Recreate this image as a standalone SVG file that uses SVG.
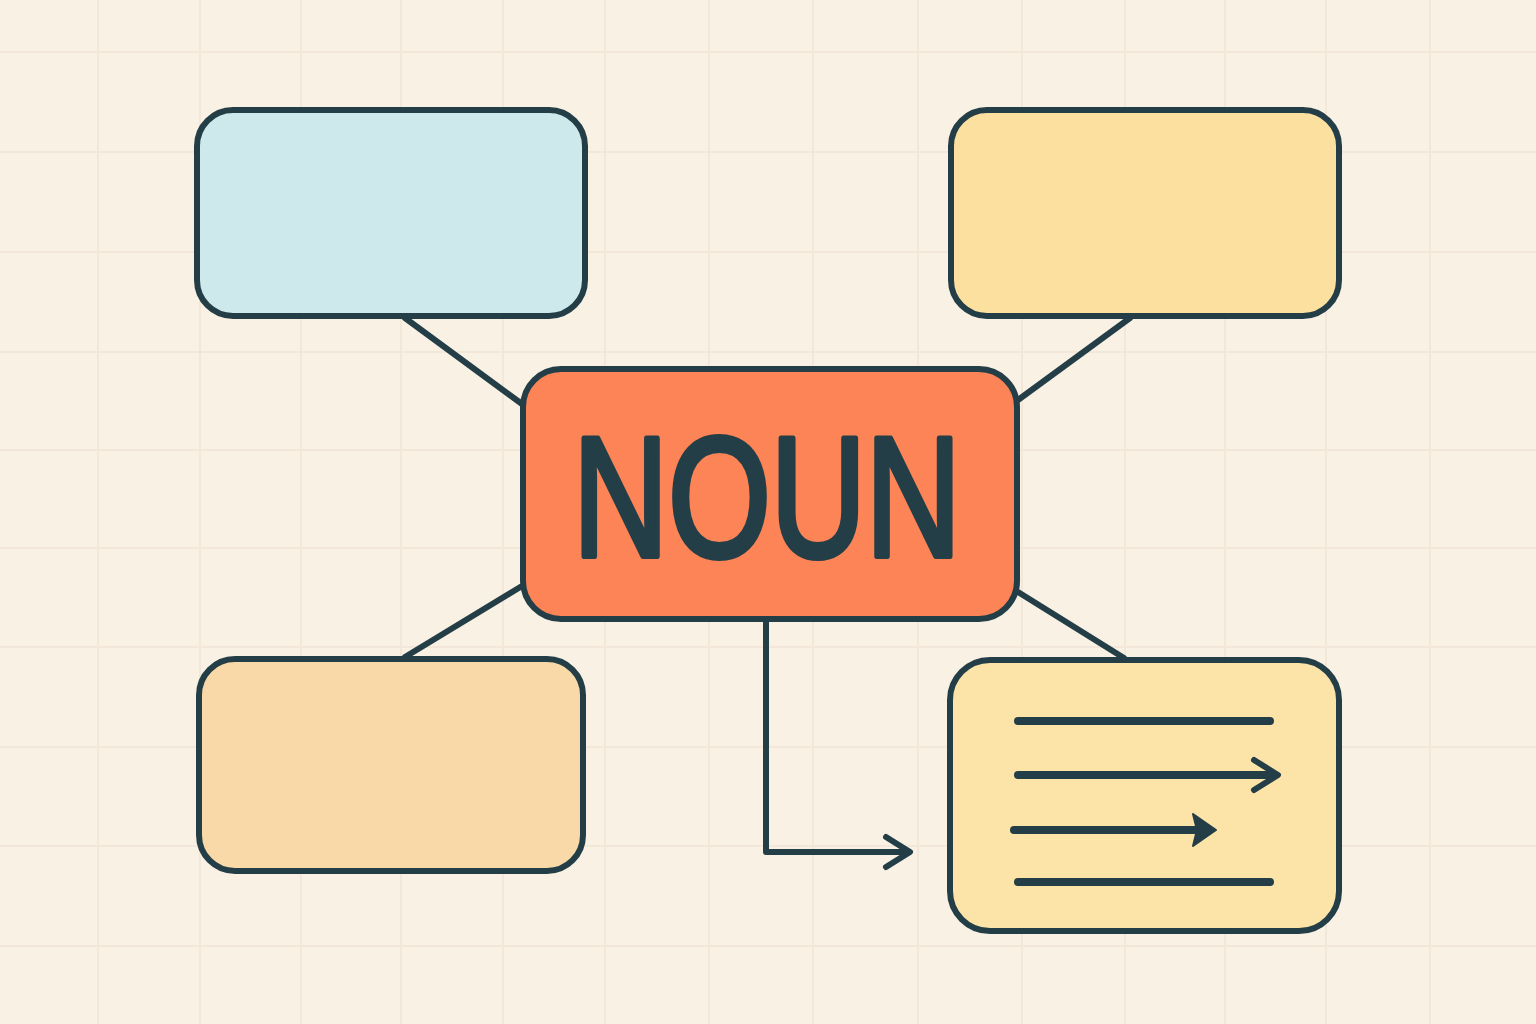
<svg xmlns="http://www.w3.org/2000/svg" width="1536" height="1024" viewBox="0 0 1536 1024">
<defs>
<style>
.bg{fill:#faf1e5}
.grid line{stroke:#f2e7d8;stroke-width:2}
.box{stroke:#243e47;stroke-width:6}
.conn{fill:none;stroke:#243e47;stroke-width:6;stroke-linecap:round;stroke-linejoin:round}
.inner{fill:none;stroke:#243e47;stroke-width:8;stroke-linecap:round;stroke-linejoin:round}
.label{font-family:"Liberation Sans","DejaVu Sans",sans-serif;font-weight:normal;fill:#243e47;stroke:#243e47;stroke-width:6;stroke-linejoin:round}
</style>
<marker id="chev" viewBox="0 0 40 40" refX="29" refY="20" markerWidth="40" markerHeight="40" markerUnits="userSpaceOnUse" orient="auto">
<path d="M9 5 L33 20 L9 35" fill="none" stroke="#243e47" stroke-width="6" stroke-linecap="round" stroke-linejoin="round"/>
</marker>
<marker id="tri" viewBox="0 0 40 40" refX="26" refY="20" markerWidth="40" markerHeight="40" markerUnits="userSpaceOnUse" orient="auto">
<path d="M10 4 L33 20 L10 36 L14 20 Z" fill="#243e47" stroke="#243e47" stroke-width="2" stroke-linejoin="round"/>
</marker>
</defs>
<rect class="bg" x="0" y="0" width="1536" height="1024"/>
<g class="grid">
<line x1="98" y1="0" x2="98" y2="1024"/>
<line x1="200" y1="0" x2="200" y2="1024"/>
<line x1="301" y1="0" x2="301" y2="1024"/>
<line x1="401" y1="0" x2="401" y2="1024"/>
<line x1="503" y1="0" x2="503" y2="1024"/>
<line x1="605" y1="0" x2="605" y2="1024"/>
<line x1="709" y1="0" x2="709" y2="1024"/>
<line x1="813" y1="0" x2="813" y2="1024"/>
<line x1="918" y1="0" x2="918" y2="1024"/>
<line x1="1022" y1="0" x2="1022" y2="1024"/>
<line x1="1125" y1="0" x2="1125" y2="1024"/>
<line x1="1225" y1="0" x2="1225" y2="1024"/>
<line x1="1326" y1="0" x2="1326" y2="1024"/>
<line x1="1430" y1="0" x2="1430" y2="1024"/>
<line x1="0" y1="52" x2="1536" y2="52"/>
<line x1="0" y1="152" x2="1536" y2="152"/>
<line x1="0" y1="252" x2="1536" y2="252"/>
<line x1="0" y1="352" x2="1536" y2="352"/>
<line x1="0" y1="450" x2="1536" y2="450"/>
<line x1="0" y1="548" x2="1536" y2="548"/>
<line x1="0" y1="647" x2="1536" y2="647"/>
<line x1="0" y1="747" x2="1536" y2="747"/>
<line x1="0" y1="846" x2="1536" y2="846"/>
<line x1="0" y1="946" x2="1536" y2="946"/>
</g>
<g id="connectors">
<line class="conn" x1="405" y1="318" x2="522" y2="404"/>
<line class="conn" x1="1130" y1="318" x2="1018" y2="400"/>
<line class="conn" x1="522" y1="586" x2="405" y2="657"/>
<line class="conn" x1="1018" y1="592" x2="1124" y2="658"/>
<path class="conn" d="M766 622 L766 852 L906 852" marker-end="url(#chev)"/>
</g>
<g id="node-top-left">
<rect class="box" x="197" y="110" width="388" height="206" rx="36" fill="#cde9ec"/>
</g>
<g id="node-top-right">
<rect class="box" x="951" y="110" width="388" height="206" rx="36" fill="#fce0a0"/>
</g>
<g id="node-bottom-left">
<rect class="box" x="199" y="659" width="384" height="212" rx="36" fill="#f9d9a8"/>
</g>
<g id="node-bottom-right">
<rect class="box" x="950" y="660" width="389" height="271" rx="40" fill="#fce3a8"/>
<line class="inner" x1="1018" y1="721" x2="1270" y2="721"/>
<line class="inner" x1="1018" y1="775" x2="1274" y2="775" marker-end="url(#chev)"/>
<line class="inner" x1="1014" y1="830" x2="1209" y2="830" marker-end="url(#tri)"/>
<line class="inner" x1="1018" y1="882" x2="1270" y2="882"/>
</g>
<g id="node-center">
<rect class="box" x="523" y="369" width="494" height="250" rx="38" fill="#fc8456"/>
<text class="label" x="767" y="556" font-size="170" text-anchor="middle" textLength="388" lengthAdjust="spacingAndGlyphs">NOUN</text>
</g>
</svg>
